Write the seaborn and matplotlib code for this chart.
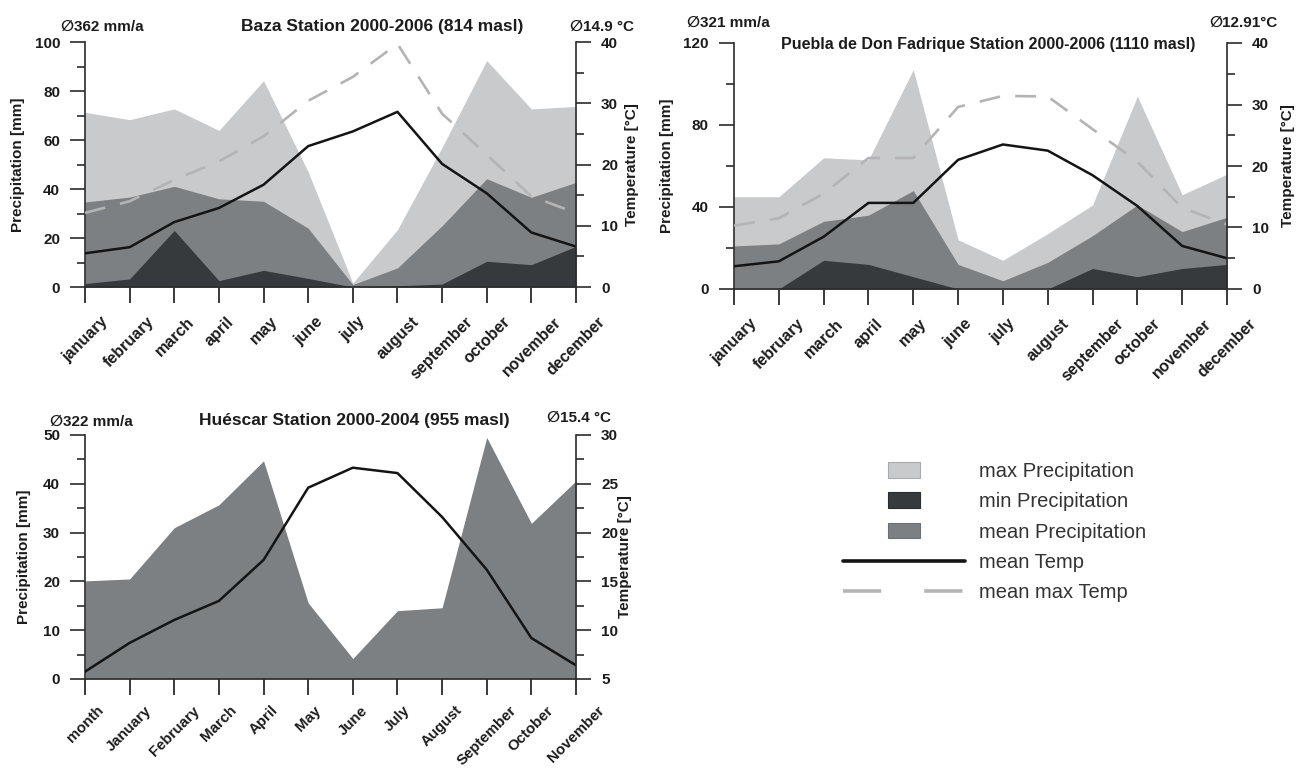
import numpy as np
import pandas as pd
import matplotlib
matplotlib.use("Agg")
import matplotlib.pyplot as plt
import seaborn as sns
from matplotlib.patches import Rectangle, Patch
from matplotlib.lines import Line2D
from matplotlib.legend_handler import HandlerPatch
from matplotlib.ticker import MultipleLocator

# ---------------- data ----------------
months = ["january", "february", "march", "april", "may", "june",
          "july", "august", "september", "october", "november", "december"]
huescar_labels = ["month", "January", "February", "March", "April", "May",
                  "June", "July", "August", "September", "October", "November"]

baza_pmax = [71.3, 68.3, 72.7, 63.9, 84.2, 47.0, 1.6, 23.4, 57.0, 92.4, 72.7, 73.7]
baza_pmean = [34.7, 36.7, 41.1, 36.0, 35.0, 24.0, 1.0, 7.8, 25.0, 44.2, 36.6, 42.7]
baza_pmin = [1.4, 3.3, 23.1, 2.6, 6.8, 3.5, 0.0, 0.5, 1.2, 10.5, 9.1, 16.6]
baza_tmean = [5.5, 6.5, 10.6, 12.9, 16.7, 23.0, 25.4, 28.6, 20.1, 15.3, 8.9, 6.6]
baza_tmax = [12.1, 14.0, 17.5, 20.5, 24.6, 30.4, 34.3, 39.7, 28.3, 21.6, 14.8, 12.1]

puebla_pmax = [45, 45, 64, 63, 107, 24, 14, 27, 41, 94, 46, 56]
puebla_pmean = [21, 22, 33, 36, 48, 12, 4, 13, 26, 41, 28, 35]
puebla_pmin = [0, 0, 14, 12, 6, 0, 0, 0, 10, 6, 10, 12]
puebla_tmean = [3.7, 4.5, 8.5, 14.0, 14.0, 21.0, 23.5, 22.5, 18.5, 13.5, 7.0, 5.0]
puebla_tmax = [10.3, 11.5, 15.5, 21.3, 21.3, 29.6, 31.4, 31.3, 26.0, 20.7, 13.2, 10.5]

huescar_pmean = [20.1, 20.5, 31.0, 35.7, 44.7, 15.6, 4.2, 14.0, 14.6, 49.5, 31.9, 40.6]
huescar_tmean = [5.75, 8.7, 11.05, 13.0, 17.2, 24.6, 26.65, 26.1, 21.6, 16.2, 9.2, 6.4]

legend_labels = ["max Precipitation", "min Precipitation", "mean Precipitation",
                 "mean Temp", "mean max Temp"]

# ---------------- style ----------------
sns.set_theme(style="ticks")
plt.rcParams['font.family'] = ['Liberation Sans', 'DejaVu Sans']
plt.rcParams['lines.scale_dashes'] = False

C_MAX = "#c9cacc"
C_MEAN = "#7c8083"
C_MIN = "#363a3d"
C_TMAX = "#b4b4b4"
C_TEMP = "#141414"
C_AX = "#2b2b2b"
C_TXT = "#1c1c1c"

W, H = 1298, 770
fig = plt.figure(figsize=(W / 100, H / 100), dpi=100)


def rect_px(left, top, right, bottom):
    return [left / W, 1 - bottom / H, (right - left) / W, (bottom - top) / H]


def ftext(x, y, s, **kw):
    fig.text(x / W, 1 - y / H, s, va='center', color=C_TXT, **kw)


def draw_panel(rect, xlabels, pmean, tmean, pmax=None, pmin=None, tmax=None,
               plim=(0, 100), pmajor=20, pminor=10,
               tlim=(0, 40), tmajor=10, tminor=5,
               ylab_x=-0.122, tlab_x=1.1, xfs=11.5, xpad=8):
    ax = fig.add_axes(rect)
    x = np.arange(len(xlabels))
    if pmax is not None:
        ax.fill_between(x, 0, pmax, color=C_MAX, lw=0)
    ax.fill_between(x, 0, pmean, color=C_MEAN, lw=0)
    if pmin is not None:
        ax.fill_between(x, 0, pmin, color=C_MIN, lw=0)
    ax.set_xlim(0, len(x) - 1)
    ax.set_ylim(*plim)
    ax.set_xticks(x)
    ax.set_xticklabels(xlabels, rotation=45, ha='center', va='top',
                       fontsize=xfs, fontweight='bold', color=C_TXT)
    ax.yaxis.set_major_locator(MultipleLocator(pmajor))
    ax.yaxis.set_minor_locator(MultipleLocator(pminor))
    for lab in ax.get_yticklabels():
        lab.set_fontweight('bold')
    ax.tick_params(axis='x', which='major', length=11.5, width=1.3,
                   pad=xpad, color=C_AX)
    ax.tick_params(axis='y', which='major', length=11, width=1.2, pad=7,
                   labelsize=11, color=C_AX, labelcolor=C_TXT)
    ax.tick_params(axis='y', which='minor', length=5.5, width=1.2, color=C_AX)
    for s in ['top', 'right']:
        ax.spines[s].set_visible(False)
    for s in ['left', 'bottom']:
        ax.spines[s].set_linewidth(1.2)
        ax.spines[s].set_color(C_AX)
    ax.set_ylabel("Precipitation [mm]", fontsize=11, fontweight='bold', color=C_TXT)
    ax.yaxis.set_label_coords(ylab_x, 0.5)
    ax.set_xlabel("")

    ax2 = ax.twinx()
    df = pd.DataFrame({"x": x, "tmean": tmean})
    if tmax is not None:
        df["tmax"] = tmax
        sns.lineplot(data=df, x="x", y="tmax", ax=ax2, color=C_TMAX, lw=1.9,
                     linestyle=(0, (15, 11)))
    sns.lineplot(data=df, x="x", y="tmean", ax=ax2, color=C_TEMP, lw=1.8)
    ax2.set_xlim(0, len(x) - 1)
    ax2.set_ylim(*tlim)
    ax2.yaxis.set_major_locator(MultipleLocator(tmajor))
    ax2.yaxis.set_minor_locator(MultipleLocator(tminor))
    for lab in ax2.get_yticklabels():
        lab.set_fontweight('bold')
    ax2.tick_params(axis='y', which='major', length=11, width=1.2, pad=7,
                    labelsize=11, color=C_AX, labelcolor=C_TXT)
    ax2.tick_params(axis='y', which='minor', length=5.5, width=1.2, color=C_AX)
    for s in ['top', 'left', 'bottom']:
        ax2.spines[s].set_visible(False)
    ax2.spines['right'].set_linewidth(1.2)
    ax2.spines['right'].set_color(C_AX)
    ax2.set_xlabel("")
    ax2.set_ylabel("Temperature [°C]", fontsize=11, fontweight='bold', color=C_TXT)
    ax2.yaxis.set_label_coords(tlab_x, 0.5)
    return ax, ax2


# Baza
draw_panel(rect_px(85, 42, 576, 287), months, baza_pmean, baza_tmean,
           pmax=baza_pmax, pmin=baza_pmin, tmax=baza_tmax,
           plim=(0, 100), pmajor=20, pminor=10, ylab_x=-0.122, tlab_x=1.1)
ftext(61, 27, "∅362 mm/a", ha='left', fontsize=11, fontweight='bold')
ftext(382, 27, "Baza Station 2000-2006 (814 masl)", ha='center', fontsize=12.5, fontweight='bold')
ftext(570, 27, "∅14.9 °C", ha='left', fontsize=11, fontweight='bold')

# Puebla
draw_panel(rect_px(734, 43, 1227, 289), months, puebla_pmean, puebla_tmean,
           pmax=puebla_pmax, pmin=puebla_pmin, tmax=puebla_tmax,
           plim=(0, 120), pmajor=40, pminor=20, ylab_x=-0.122, tlab_x=1.11)
ftext(687, 23, "∅321 mm/a", ha='left', fontsize=11, fontweight='bold')
ftext(988, 45, "Puebla de Don Fadrique Station 2000-2006 (1110 masl)", ha='center',
      fontsize=11.5, fontweight='bold')
ftext(1209, 23, "∅12.91°C", ha='left', fontsize=11, fontweight='bold')

# Huescar
draw_panel(rect_px(85, 435, 576, 679), huescar_labels, huescar_pmean, huescar_tmean,
           plim=(0, 50), pmajor=10, pminor=5,
           tlim=(5, 30), tmajor=5, tminor=2.5, ylab_x=-0.11, tlab_x=1.085,
           xfs=10.8, xpad=6)
ftext(50, 422, "∅322 mm/a", ha='left', fontsize=11, fontweight='bold')
ftext(354, 421, "Huéscar Station 2000-2004 (955 masl)", ha='center', fontsize=12.5, fontweight='bold')
ftext(547, 418, "∅15.4 °C", ha='left', fontsize=11, fontweight='bold')

# Legend
def small_rect(legend, orig_handle, xdescent, ydescent, width, height, fontsize):
    pw, ph = 23.0, 11.5
    return Rectangle((-xdescent + (width - pw) / 2, -ydescent + (height - ph) / 2), pw, ph)


handles = [
    Patch(facecolor=C_MAX, edgecolor="#a9aaac", lw=0.8),
    Patch(facecolor=C_MIN, edgecolor="#2a2d30", lw=0.8),
    Patch(facecolor=C_MEAN, edgecolor="#6c7073", lw=0.8),
    Line2D([0], [0], color=C_TEMP, lw=2.6),
    Line2D([0], [0], color=C_TMAX, lw=2.6, linestyle=(0, (27.5, 31))),
]
hmap = {h: HandlerPatch(patch_func=small_rect) for h in handles[:3]}
leg = fig.legend(handles, legend_labels, loc='upper left',
                 bbox_to_anchor=(843 / W, 1 - 462 / H), frameon=False,
                 borderpad=0, borderaxespad=0, fontsize=14.5,
                 handlelength=6.07, handletextpad=0.7, labelspacing=0.56,
                 handler_map=hmap)
for t in leg.get_texts():
    t.set_color("#333333")

fig.savefig("out.png", dpi=100)
